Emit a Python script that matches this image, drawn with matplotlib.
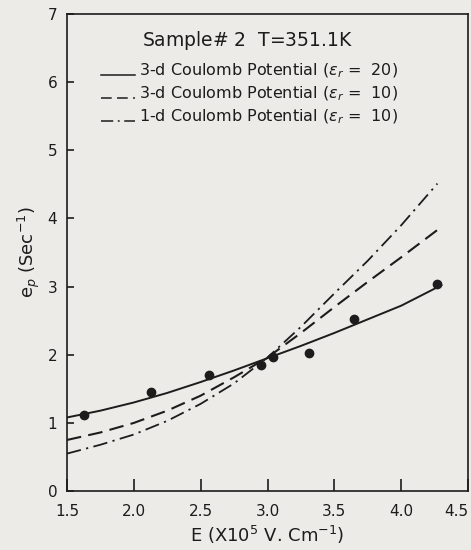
import matplotlib
matplotlib.use("Agg")
import matplotlib.pyplot as plt

# measured data points
E_data = [1.63, 2.13, 2.56, 2.95, 3.04, 3.31, 3.65, 4.27]
ep_data = [1.12, 1.45, 1.70, 1.85, 1.96, 2.03, 2.53, 3.04]

# curves
E_solid = [1.50, 1.75, 2.00, 2.25, 2.50, 2.75, 3.00, 3.25, 3.50, 3.75, 4.00, 4.30]
ep_solid = [1.08, 1.18, 1.30, 1.44, 1.60, 1.77, 1.95, 2.13, 2.32, 2.52, 2.72, 3.02]

E_dash = [1.50, 1.75, 2.00, 2.25, 2.50, 2.75, 3.00, 3.25, 3.50, 3.75, 4.00, 4.27]
ep_dash = [0.75, 0.86, 1.00, 1.18, 1.40, 1.67, 1.96, 2.32, 2.70, 3.07, 3.43, 3.83]

E_dd = [1.50, 1.75, 2.00, 2.25, 2.50, 2.75, 3.00, 3.25, 3.50, 3.75, 4.00, 4.27]
ep_dd = [0.55, 0.68, 0.83, 1.03, 1.28, 1.58, 1.96, 2.41, 2.90, 3.38, 3.90, 4.51]

legend_labels = [r"3-d Coulomb Potential ($\varepsilon_r$ =  20)",
                 r"3-d Coulomb Potential ($\varepsilon_r$ =  10)",
                 r"1-d Coulomb Potential ($\varepsilon_r$ =  10)"]
title_text = "Sample$\\#$ 2  T=351.1K"
x_ticks = [1.5, 2.0, 2.5, 3.0, 3.5, 4.0, 4.5]
y_ticks = [0, 1, 2, 3, 4, 5, 6, 7]

ink = "#1c1c1c"
bg = "#ecebe8"

plt.rcParams['font.family'] = ['DejaVu Sans']
plt.rcParams['mathtext.fontset'] = 'dejavusans'

fig = plt.figure(figsize=(4.71, 5.5), dpi=100, facecolor=bg)
ax = fig.add_axes([0.142, 0.107, 0.852, 0.868], facecolor=bg)

dash_style = (0, (7, 3.5))
dd_style = (0, (8, 3, 1.2, 3))
ax.plot(E_solid, ep_solid, color=ink, lw=1.4, ls='-')
ax.plot(E_dash, ep_dash, color=ink, lw=1.5, ls=dash_style)
ax.plot(E_dd, ep_dd, color=ink, lw=1.3, ls=dd_style)
ax.plot(E_data, ep_data, 'o', color=ink, ms=6)

ax.set_xlim(1.5, 4.5)
ax.set_ylim(0, 7)
ax.set_xticks(x_ticks)
ax.set_xticklabels([f"{v:.1f}" for v in x_ticks])
ax.set_yticks(y_ticks)
ax.set_yticklabels([str(v) for v in y_ticks])
ax.tick_params(axis='x', direction='in', length=9, width=1.2, colors=ink,
               labelsize=11, pad=9)
ax.tick_params(axis='y', direction='in', length=5, width=1.2, colors=ink,
               labelsize=11, pad=7)
xl = ax.get_xticklabels()
xl[-1].set_horizontalalignment('right')
for s in ax.spines.values():
    s.set_color(ink)
    s.set_linewidth(1.2)

ax.set_xlabel(r"E (X10$^5$ V. Cm$^{-1}$)", fontsize=13, color=ink, labelpad=4)
ax.set_ylabel(r"e$_p$ (Sec$^{-1}$)", fontsize=13, color=ink, labelpad=4)

# title and legend inside
ax.text(0.45, 0.945, title_text, transform=ax.transAxes, ha='center',
        va='center', fontsize=13.5, color=ink)
styles = ['-', dash_style, dd_style]
ys = [0.880, 0.832, 0.784]
for lab, st, yy in zip(legend_labels, styles, ys):
    ax.plot([0.085, 0.17], [yy - 0.008, yy - 0.008], transform=ax.transAxes,
            color=ink, lw=1.1, ls=st)
    ax.text(0.18, yy, lab, transform=ax.transAxes, ha='left', va='center',
            fontsize=11.5, color=ink)

fig.savefig("out.png", dpi=100, facecolor=bg)
